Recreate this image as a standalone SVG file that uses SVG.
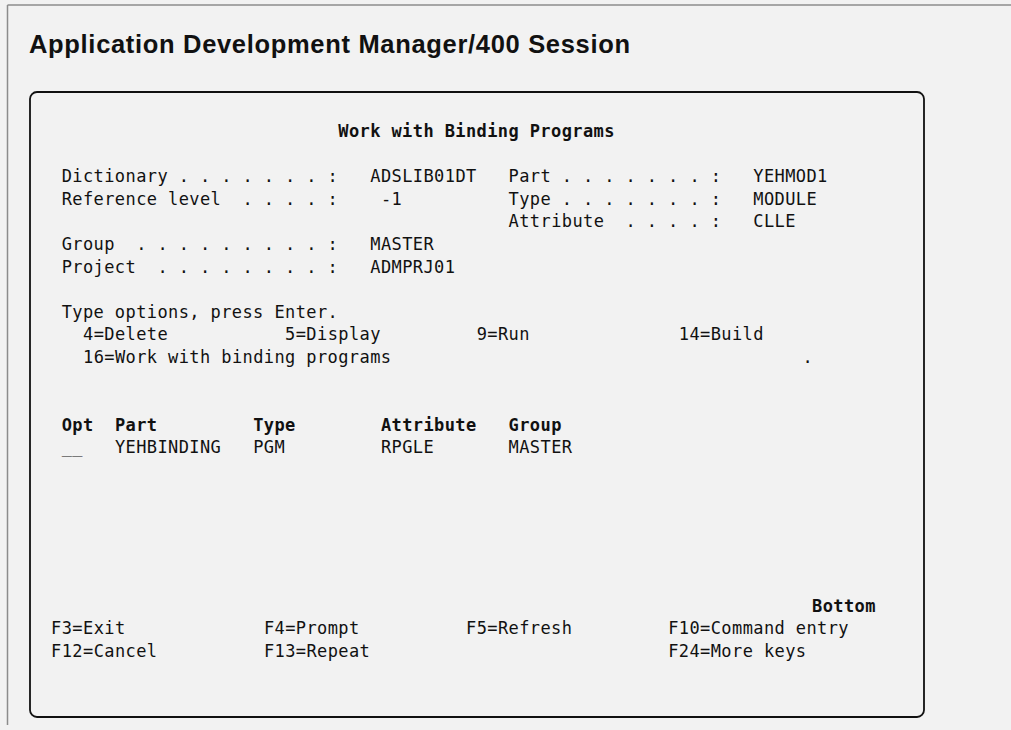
<svg xmlns="http://www.w3.org/2000/svg" width="1011" height="730" viewBox="0 0 1011 730">
<style>
.m{font-family:"DejaVu Sans Mono","Liberation Mono",monospace;font-size:17px;letter-spacing:0.4px;fill:#111;white-space:pre}
.b{font-weight:bold}
.title{font-family:"Liberation Sans",Arial,sans-serif;font-size:25.5px;font-weight:bold;fill:#111}
</style>
<rect x="0" y="0" width="1011" height="730" fill="#f2f2f2"/>
<g id="page-frame" fill="none" stroke="#8c8c8c" stroke-width="1.5">
<line x1="7.5" y1="5" x2="1011" y2="5"/>
<line x1="7.5" y1="5" x2="7.5" y2="725"/>
</g>
<text id="page-title" class="title" x="29" y="53" textLength="601" lengthAdjust="spacing">Application Development Manager/400 Session</text>
<g id="screen">
<rect x="30" y="92" width="894" height="625" rx="7" ry="7" fill="none" stroke="#111" stroke-width="1.8"/>
<g xml:space="preserve">
<text class="m b" x="338.3" y="137">Work with Binding Programs</text>
<text class="m" x="61.7" y="182.2">Dictionary . . . . . . . :</text>
<text class="m" x="370.3" y="182.2">ADSLIB01DT</text>
<text class="m" x="508.6" y="182.2">Part . . . . . . . :</text>
<text class="m" x="753.3" y="182.2">YEHMOD1</text>
<text class="m" x="61.7" y="204.8">Reference level  . . . . :</text>
<text class="m" x="380.9" y="204.8">-1</text>
<text class="m" x="508.6" y="204.8">Type . . . . . . . :</text>
<text class="m" x="753.3" y="204.8">MODULE</text>
<text class="m" x="508.6" y="227.4">Attribute  . . . . :</text>
<text class="m" x="753.3" y="227.4">CLLE</text>
<text class="m" x="61.7" y="250">Group  . . . . . . . . . :</text>
<text class="m" x="370.3" y="250">MASTER</text>
<text class="m" x="61.7" y="272.6">Project  . . . . . . . . :</text>
<text class="m" x="370.3" y="272.6">ADMPRJ01</text>
<text class="m" x="61.7" y="317.8">Type options, press Enter.</text>
<text class="m" x="83" y="340.4">4=Delete</text>
<text class="m" x="285.1" y="340.4">5=Display</text>
<text class="m" x="476.7" y="340.4">9=Run</text>
<text class="m" x="678.8" y="340.4">14=Build</text>
<text class="m" x="83" y="363">16=Work with binding programs</text>
<text class="m" x="802.4" y="363">.</text>
<text class="m b" x="61.7" y="430.8">Opt</text>
<text class="m b" x="114.9" y="430.8">Part</text>
<text class="m b" x="253.2" y="430.8">Type</text>
<text class="m b" x="380.9" y="430.8">Attribute</text>
<text class="m b" x="508.6" y="430.8">Group</text>
<text class="m" x="61.7" y="453.4">__</text>
<text class="m" x="114.9" y="453.4">YEHBINDING</text>
<text class="m" x="253.2" y="453.4">PGM</text>
<text class="m" x="380.9" y="453.4">RPGLE</text>
<text class="m" x="508.6" y="453.4">MASTER</text>
<text class="m b" x="812" y="611.6">Bottom</text>
<text class="m" x="51.1" y="634.2">F3=Exit</text>
<text class="m" x="263.9" y="634.2">F4=Prompt</text>
<text class="m" x="466" y="634.2">F5=Refresh</text>
<text class="m" x="668.2" y="634.2">F10=Command entry</text>
<text class="m" x="51.1" y="656.8">F12=Cancel</text>
<text class="m" x="263.9" y="656.8">F13=Repeat</text>
<text class="m" x="668.2" y="656.8">F24=More keys</text>
</g>
</g>
</svg>
